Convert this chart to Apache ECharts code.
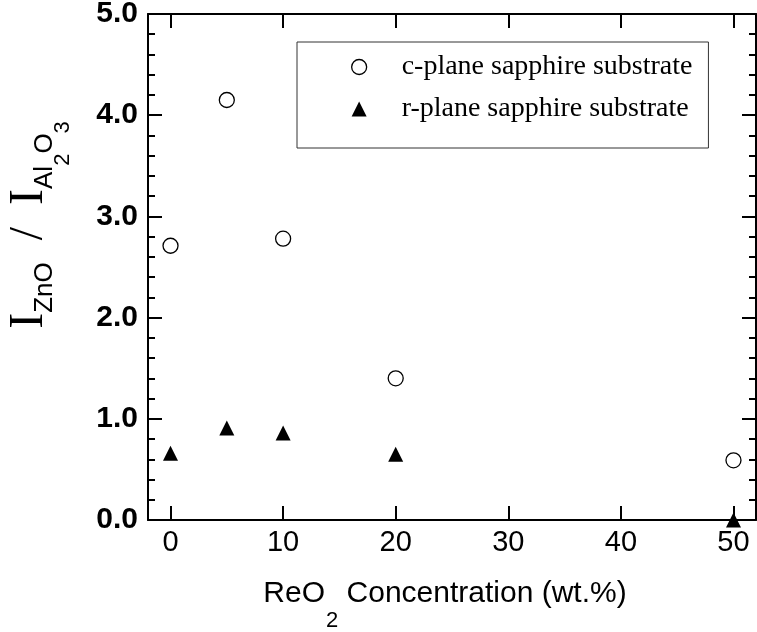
<!DOCTYPE html>
<html>
<head>
<meta charset="utf-8">
<script src="https://cdn.jsdelivr.net/npm/echarts@6/dist/echarts.min.js"></script>
<style>html,body{margin:0;padding:0;background:#fff}#c{width:757px;height:632px}</style>
</head>
<body>
<div id="c"></div>
<script>
const concentrations = [0, 5, 10, 20, 50];
const cPlane = [2.71, 4.15, 2.78, 1.40, 0.59];
const rPlane = [0.66, 0.91, 0.86, 0.65, 0.0];
const xTicks = [0, 10, 20, 30, 40, 50];
const seriesNames = ['c-plane sapphire substrate', 'r-plane sapphire substrate'];

const chart = echarts.init(document.getElementById('c'), null, {renderer: 'canvas'});
const black = '#000';
const axisLine = {show: true, onZero: false, lineStyle: {color: black, width: 2}};

const option = {
  backgroundColor: '#fff',
  animation: false,
  grid: {left: 148, right: 1, top: 14, bottom: 112, containLabel: false, outerBoundsMode: 'none'},
  legend: {
    orient: 'vertical',
    left: 297, top: 42,
    padding: [11, 16, 25, 54],
    itemWidth: 15, itemHeight: 15, itemGap: 14,
    borderColor: '#333', borderWidth: 1,
    textStyle: {fontFamily: 'Liberation Serif', fontSize: 28, color: black, padding: [0, 0, 0, 30]},
    data: [
      {name: seriesNames[0], icon: 'circle', itemStyle: {color: '#fff', borderColor: black, borderWidth: 1.3}},
      {name: seriesNames[1], icon: 'triangle', itemStyle: {color: black, borderWidth: 0}}
    ]
  },
  xAxis: [
    {
      type: 'value', position: 'bottom', min: -2, max: 52,
      axisLine: axisLine,
      axisTick: {show: true, inside: true, length: 14, lineStyle: {color: black, width: 2}, customValues: xTicks},
      axisLabel: {show: true, customValues: xTicks, fontFamily: 'Liberation Sans', fontSize: 29, color: black, margin: 8},
      splitLine: {show: false},
      name: '{a|ReO}{b|2}{c| Concentration (wt.%)}',
      nameLocation: 'middle', nameGap: 35,
      nameTextStyle: {
        rich: {
          a: {fontFamily: 'Liberation Sans', fontSize: 30, color: black},
          c: {fontFamily: 'Liberation Sans', fontSize: 30, color: black, padding: [0, 14, 0, 0]},
          b: {fontFamily: 'Liberation Sans', fontSize: 22, color: black, padding: [55, 0, 0, 1]}
        }
      }
    },
    {
      type: 'value', position: 'top', min: -2, max: 52,
      axisLine: axisLine,
      axisTick: {show: true, inside: true, length: 14, lineStyle: {color: black, width: 2}, customValues: xTicks},
      axisLabel: {show: false},
      splitLine: {show: false}
    }
  ],
  yAxis: [
    {
      type: 'value', position: 'left', min: 0, max: 5, interval: 1,
      axisLine: axisLine,
      axisTick: {show: true, inside: true, length: 14, lineStyle: {color: black, width: 2}},
      minorTick: {show: true, splitNumber: 5, length: 7, lineStyle: {color: black, width: 2}},
      axisLabel: {fontFamily: 'Liberation Sans', fontWeight: 'bold', fontSize: 30, color: black, margin: 10,
        formatter: v => v.toFixed(1)},
      splitLine: {show: false},
      minorSplitLine: {show: false},
      name: '{I0|I}{s|ZnO}{sl|/}{I|I}{s|Al}{ss|2}{s|O}{ss|3}',
      nameLocation: 'middle', nameRotate: 90, nameGap: 74,
      nameTextStyle: {
        rich: {
          I0: {fontFamily: 'Liberation Serif', fontSize: 48, color: black, padding: [0, 0, 0, 84]},
          I: {fontFamily: 'Liberation Serif', fontSize: 48, color: black},
          sl: {fontFamily: 'Liberation Serif', fontSize: 48, color: black, padding: [0, 22, 0, 22]},
          s: {fontFamily: 'Liberation Sans', fontSize: 26, color: black, padding: [30, 0, 0, 0]},
          ss: {fontFamily: 'Liberation Sans', fontSize: 22, color: black, padding: [67, 0, 0, 0]}
        }
      }
    },
    {
      type: 'value', position: 'right', min: 0, max: 5, interval: 1,
      axisLine: axisLine,
      axisTick: {show: true, inside: true, length: 14, lineStyle: {color: black, width: 2}},
      minorTick: {show: true, splitNumber: 5, length: 7, lineStyle: {color: black, width: 2}},
      axisLabel: {show: false},
      splitLine: {show: false},
      minorSplitLine: {show: false}
    }
  ],
  series: [
    {
      name: seriesNames[0], type: 'scatter', clip: false,
      symbol: 'circle', symbolSize: 15,
      itemStyle: {color: '#fff', borderColor: black, borderWidth: 1.3, opacity: 1},
      data: concentrations.map((x, i) => [x, cPlane[i]]),
      z: 5
    },
    {
      name: seriesNames[1], type: 'scatter', clip: false,
      symbol: 'triangle', symbolSize: 15,
      itemStyle: {color: black, opacity: 1},
      data: concentrations.map((x, i) => [x, rPlane[i]]),
      z: 5
    }
  ]
};
chart.setOption(option);
</script>
</body>
</html>
